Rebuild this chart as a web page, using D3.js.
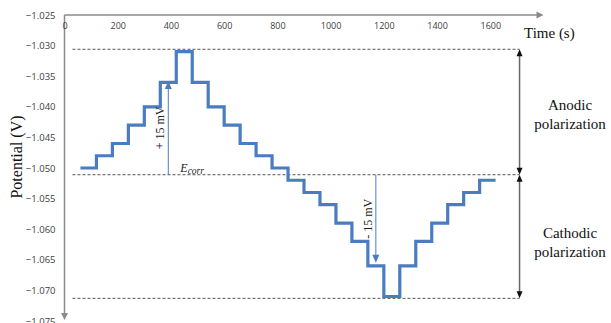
<!DOCTYPE html>
<html><head><meta charset="utf-8">
<script src="https://cdn.jsdelivr.net/npm/d3@7"></script>
<style>body{margin:0;background:#fff}svg{display:block}</style>
</head><body>
<svg id="c" width="611" height="323"></svg>
<script>
// ---- data ----
const stepStart = [60,120,180,240,300,360,420,480,540,600,660,720,780,840,900,960,1020,1080,1140,1200,1260,1320,1380,1440,1500,1560];
const potential = [-1.050,-1.048,-1.046,-1.043,-1.040,-1.036,-1.031,-1.036,-1.040,-1.043,-1.046,-1.048,-1.050,-1.052,-1.054,-1.056,-1.059,-1.062,-1.066,-1.071,-1.066,-1.062,-1.059,-1.056,-1.054,-1.052];
const endTime = 1620;
const xTicks = [0,200,400,600,800,1000,1200,1400,1600];
const yTicks = [-1.025,-1.030,-1.035,-1.040,-1.045,-1.050,-1.055,-1.060,-1.065,-1.070,-1.075];
const refLevels = {upper:-1.0306, ecorr:-1.0511, lower:-1.0713};
const annUp = {t:390, from:-1.0511, to:-1.0358, label:"+ 15 mV"};
const annDown = {t:1170, from:-1.0511, to:-1.0655, label:"- 15 mV"};
const rightArrowT = 1710;

const svg = d3.select("#c");
const x = d3.scaleLinear().domain([0,1800]).range([64.5,543.5]);
const y = d3.scaleLinear().domain([-1.025,-1.075]).range([15,321]);
const axisCol = "#8a8a8a", lineCol = "#4a7cc0";

// dashed reference lines
const x0 = x(30), x1 = x(rightArrowT);
Object.values(refLevels).forEach(v=>{
  svg.append("line").attr("x1",x0).attr("x2",x1).attr("y1",y(v)).attr("y2",y(v))
    .attr("stroke","#555").attr("stroke-width",1).attr("stroke-dasharray","3,2");
});

// axes
svg.append("line").attr("x1",x(0)).attr("x2",x(1800)-4).attr("y1",y(-1.025)).attr("y2",y(-1.025))
  .attr("stroke",axisCol).attr("stroke-width",1.5);
svg.append("path").attr("d",`M${x(1800)},${y(-1.025)} l-7,-3.5 l0,7 z`).attr("fill",axisCol);
svg.append("line").attr("x1",x(0)).attr("x2",x(0)).attr("y1",y(-1.025)).attr("y2",y(-1.075)-4)
  .attr("stroke",axisCol).attr("stroke-width",1.5);
svg.append("path").attr("d",`M${x(0)},${y(-1.075)-1} l-3.5,-7 l7,0 z`).attr("fill",axisCol);

const gx = svg.append("g").attr("transform",`translate(0,${y(-1.025)})`)
  .call(d3.axisBottom(x).tickValues(xTicks).tickSize(0).tickPadding(8).tickFormat(d3.format("d")));
gx.select(".domain").remove();
gx.selectAll("text").attr("font-family","'Open Sans', 'Liberation Sans', sans-serif").attr("font-size",9).attr("fill","#404040");

const gy = svg.append("g").attr("transform",`translate(${x(0)},0)`)
  .call(d3.axisLeft(y).tickValues(yTicks).tickSize(0).tickPadding(9).tickFormat(d3.format(".3f")));
gy.select(".domain").remove();
gy.selectAll("text").attr("font-family","'Open Sans', 'Liberation Sans', sans-serif").attr("font-size",9.5).attr("fill","#404040");

// data line
const pts = stepStart.map((t,i)=>[t,potential[i]]);
pts.push([endTime, potential[potential.length-1]]);
svg.append("path").datum(pts)
  .attr("d", d3.line().x(d=>x(d[0])).y(d=>y(d[1])).curve(d3.curveStepAfter))
  .attr("fill","none").attr("stroke",lineCol).attr("stroke-width",3.2).attr("stroke-linejoin","miter");

// annotation arrows
function vArrow(a){
  const xa = x(a.t), ya = y(a.from), yb = y(a.to);
  const dir = yb < ya ? 1 : -1; // head direction (1 = up)
  svg.append("line").attr("x1",xa).attr("x2",xa).attr("y1",ya).attr("y2",yb+dir*6)
    .attr("stroke",lineCol).attr("stroke-width",1);
  svg.append("path").attr("d",`M${xa},${yb} l-3.5,${dir*8} l7,0 z`).attr("fill",lineCol);
  svg.append("text").attr("transform",`translate(${xa-4},${(ya+yb)/2}) rotate(-90)`)
    .attr("text-anchor","middle").attr("font-family","'Liberation Serif', serif").attr("font-size",12)
    .attr("fill","#222").text(a.label);
}
vArrow(annUp); vArrow(annDown);

// Ecorr label
const et = svg.append("text").attr("x",x(annUp.t)+12).attr("y",y(refLevels.ecorr)-3)
  .attr("font-family","'Liberation Serif', serif").attr("font-style","italic").attr("font-size",12).attr("fill","#222");
et.append("tspan").text("E");
et.append("tspan").attr("font-size",9.5).attr("dy",2).text("corr");

// right double arrows
const xr = x(rightArrowT);
function dArrow(v1,v2){
  const a = y(v1), b = y(v2);
  svg.append("line").attr("x1",xr).attr("x2",xr).attr("y1",a+4).attr("y2",b-4)
    .attr("stroke","#666").attr("stroke-width",1.5);
  svg.append("path").attr("d",`M${xr},${a} l-3,7 l6,0 z`).attr("fill","#111");
  svg.append("path").attr("d",`M${xr},${b} l-3,-7 l6,0 z`).attr("fill","#111");
}
dArrow(refLevels.upper, refLevels.ecorr);
dArrow(refLevels.ecorr, refLevels.lower);

// texts
const serif = "'Liberation Serif', serif";
svg.append("text").attr("x",524).attr("y",38).attr("font-family",serif).attr("font-size",15).attr("fill","#111").text("Time (s)");
svg.append("text").attr("transform","translate(22,157) rotate(-90)").attr("text-anchor","middle")
  .attr("font-family",serif).attr("font-size",16).attr("fill","#111").text("Potential (V)");
function twoLine(cx, cy, l1, l2){
  const t = svg.append("text").attr("text-anchor","middle").attr("font-family",serif).attr("font-size",15).attr("fill","#111");
  t.append("tspan").attr("x",cx).attr("y",cy).text(l1);
  t.append("tspan").attr("x",cx).attr("y",cy+19).text(l2);
}
twoLine(570, 110, "Anodic", "polarization");
twoLine(570, 238, "Cathodic", "polarization");
</script>
</body></html>
